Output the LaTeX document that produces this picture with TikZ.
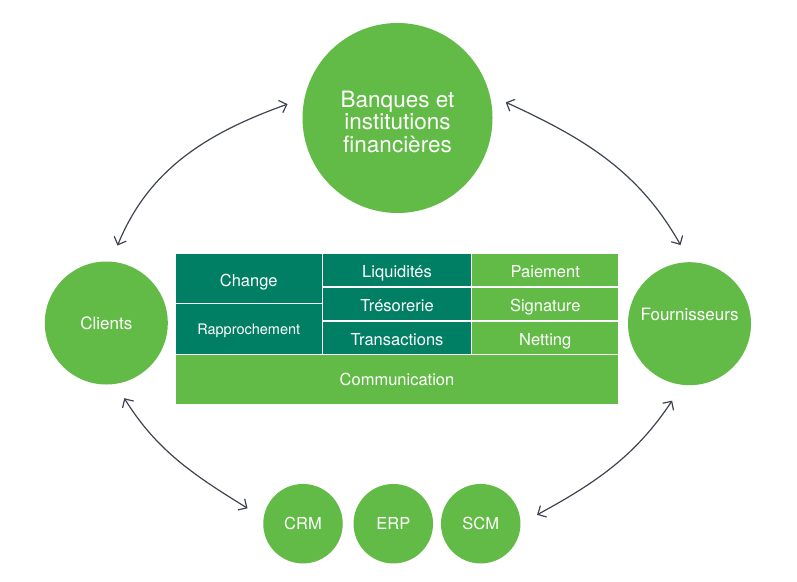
\documentclass[tikz,border=0pt]{standalone}
\usepackage{fontspec}
\setmainfont{TeX Gyre Heros}
\usetikzlibrary{arrows.meta,bending}
\definecolor{dkgreen}{HTML}{007F64}
\definecolor{ltgreen}{HTML}{62BB46}
\definecolor{arrowgray}{HTML}{3E4350}
\begin{document}
\begin{tikzpicture}[x=1pt,y=-1pt,
  bubble/.style={circle, fill=ltgreen, inner sep=0pt, outer sep=0pt, text=white,
    font=\fontsize{17}{20}\selectfont},
  smallbubble/.style={bubble, minimum size=79.5pt, font=\fontsize{16.5}{19}\selectfont},
  bubbletext/.style={text=white, inner sep=0pt, align=center},
  cell/.style={rectangle, draw=white, line width=1.5pt, inner sep=0pt, outer sep=0pt,
    text=white, font=\fontsize{16.5}{19}\selectfont, text height=15.5pt, text depth=0pt},
  darkcell/.style={cell, fill=dkgreen},
  lightcell/.style={cell, fill=ltgreen},
  link/.style={draw=arrowgray, line width=1.2pt,
    {Straight Barb[length=6.5pt,width=13pt]}-{Straight Barb[length=6.5pt,width=13pt]}}
]
\useasboundingbox (0,0) rectangle (797,581);

% table
\node[darkcell, minimum width=147.5pt, minimum height=50.5pt] (change) at (248.75,278.25) {Change};
\node[darkcell, minimum width=147.5pt, minimum height=51pt,
  font=\fontsize{14.5}{17}\selectfont, text height=11.8pt] (rappro) at (248.75,329) {Rapprochement};
\node[darkcell, minimum width=149pt, minimum height=34pt] (liq) at (397,270) {Liquidités};
\node[darkcell, minimum width=149pt, minimum height=34pt] (treso) at (397,304) {Trésorerie};
\node[darkcell, minimum width=149pt, minimum height=33.5pt] (trans) at (397,337.75) {Transactions};
\node[lightcell, minimum width=147.5pt, minimum height=34pt] (paie) at (545.25,270) {Paiement};
\node[lightcell, minimum width=147.5pt, minimum height=34pt] (sign) at (545.25,304) {Signature};
\node[lightcell, minimum width=147.5pt, minimum height=33.5pt] (net) at (545.25,337.75) {Netting};
\node[lightcell, minimum width=444pt, minimum height=50.5pt, text height=11.9pt] (comm) at (397,379.75) {Communication};

% circles
\node[bubble, minimum size=190pt,
  label={[bubbletext, font=\fontsize{22.5}{22.5}\selectfont, yshift=-3.6pt]center:{Banques et\\institutions\\financières}}]
  (banques) at (397.5,118) {};
\node[bubble, minimum size=123pt] (clients) at (106.3,323) {Clients};
\node[bubble, minimum size=123pt,
  label={[bubbletext, font=\fontsize{17}{20}\selectfont, yshift=9.7pt]center:Fournisseurs}]
  (fourn) at (689.5,323.7) {};
\node[smallbubble] (crm) at (303,523.7) {CRM};
\node[smallbubble] (erp) at (393.3,523.7) {ERP};
\node[smallbubble] (scm) at (480.7,523.7) {SCM};

% connectors
\draw[link, shorten <=17.5pt, shorten >=18.2pt] (clients.85) to[out=72, in=198.4] (banques.168);
\draw[link, shorten <=17.9pt, shorten >=19.7pt] (banques.14) to[out=-24, in=116] (fourn.90);
\draw[link, shorten <=17pt, shorten >=19.2pt] (clients.-81) to[out=-61.5, in=148.3] (crm.172);
\draw[link, shorten <=19.2pt, shorten >=19.1pt] (scm.0) to[out=28, in=239.5] (fourn.263);
\end{tikzpicture}
\end{document}
